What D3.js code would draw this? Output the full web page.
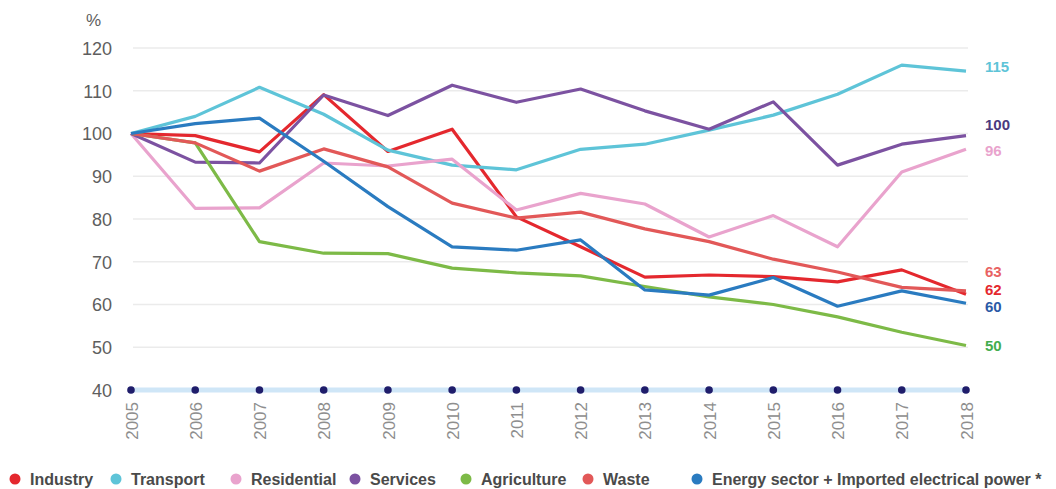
<!DOCTYPE html>
<html>
<head>
<meta charset="utf-8">
<script src="https://cdn.jsdelivr.net/npm/d3@7"></script>
<style>
  html, body { margin: 0; padding: 0; background: #fff; }
  svg { display: block; font-family: "Liberation Sans", Arial, Helvetica, sans-serif; }
</style>
</head>
<body>
<svg id="chart" width="1056" height="489"></svg>
<script>
// Emissions by sector, index 2005 = 100
const years = [2005, 2006, 2007, 2008, 2009, 2010, 2011, 2012, 2013, 2014, 2015, 2016, 2017, 2018];
const yTicks = [40, 50, 60, 70, 80, 90, 100, 110, 120];

const industry    = [100, 99.5, 95.7, 109.1, 95.8, 101.0, 80.5, 73.5, 66.4, 66.9, 66.5, 65.3, 68.1, 62.4];
const transport   = [100, 104.0, 110.8, 104.5, 96.1, 92.6, 91.5, 96.3, 97.5, 100.8, 104.3, 109.2, 116.0, 114.6];
const residential = [100, 82.5, 82.6, 93.1, 92.4, 94.0, 82.1, 86.0, 83.5, 75.8, 80.8, 73.5, 91.0, 96.3];
const services    = [100, 93.3, 93.1, 109.0, 104.2, 111.3, 107.3, 110.4, 105.3, 101.0, 107.4, 92.6, 97.5, 99.5];
const agriculture = [100, 97.8, 74.7, 72.0, 71.9, 68.5, 67.4, 66.7, 64.2, 61.8, 60.0, 57.1, 53.5, 50.4];
const waste       = [100, 97.8, 91.2, 96.4, 92.2, 83.7, 80.2, 81.6, 77.7, 74.7, 70.6, 67.6, 64.0, 63.2];
const energy      = [100, 102.3, 103.6, 93.5, 82.9, 73.5, 72.7, 75.1, 63.4, 62.2, 66.3, 59.6, 63.2, 60.3];

const seriesNames  = ["Industry", "Transport", "Residential", "Services", "Agriculture", "Waste", "Energy sector + Imported electrical power *"];
const seriesValues = [industry, transport, residential, services, agriculture, waste, energy];
const seriesColors = ["#e4282e", "#5ec4d8", "#e9a3cd", "#7c52a1", "#7dba47", "#e25858", "#2a7bc0"];
const endLabels    = ["62", "115", "96", "100", "50", "63", "60"];
const endColors    = ["#e4282e", "#5ec4d8", "#e9a3cd", "#4b3a7e", "#43ad4e", "#e86262", "#2b5aa6"];
const endLabelY    = [290, 67, 151, 125, 346, 272, 307];

const svg = d3.select("#chart");

const x = d3.scalePoint().domain(years).range([131, 966]);
const y = d3.scaleLinear().domain([40, 120]).range([390, 48]);

// horizontal grid
svg.append("g")
  .selectAll("line")
  .data(yTicks.filter(t => t > 40))
  .join("line")
  .attr("x1", 133).attr("x2", 968)
  .attr("y1", d => y(d)).attr("y2", d => y(d))
  .attr("stroke", "#ebebeb").attr("stroke-width", 1.5);

// y tick labels
const yAxis = d3.axisLeft(y).tickValues(yTicks).tickSize(0).tickPadding(0);
const gy = svg.append("g").attr("transform", "translate(112,0)").call(yAxis);
gy.select(".domain").remove();
gy.selectAll("text")
  .attr("font-size", 18).attr("fill", "#5e5e5e")
  .attr("font-family", "'Liberation Sans', Arial, sans-serif")
  .attr("dy", "0.36em");

svg.append("text").attr("x", 86).attr("y", 26)
  .attr("font-size", 17).attr("fill", "#5e5e5e").text("%");

// baseline axis with year markers
svg.append("line")
  .attr("x1", 131).attr("x2", 966)
  .attr("y1", y(40)).attr("y2", y(40))
  .attr("stroke", "#cfe6f7").attr("stroke-width", 5);

svg.append("g").selectAll("circle")
  .data(years).join("circle")
  .attr("cx", d => x(d)).attr("cy", y(40)).attr("r", 3.8)
  .attr("fill", "#1f1d6b");

const xAxis = d3.axisBottom(x).tickSize(0).tickPadding(0);
const gx = svg.append("g").attr("transform", `translate(0,${y(40)})`).call(xAxis);
gx.select(".domain").remove();
gx.selectAll("text")
  .attr("font-size", 17).attr("fill", "#8e8e8e")
  .attr("transform", "rotate(-90)")
  .attr("text-anchor", "end")
  .attr("x", -12).attr("y", 0).attr("dy", "0.36em");

// series lines
const line = d3.line()
  .x((d, i) => x(years[i]))
  .y(d => y(d));

svg.append("g").selectAll("path")
  .data(seriesValues)
  .join("path")
  .attr("d", d => line(d))
  .attr("fill", "none")
  .attr("stroke", (d, i) => seriesColors[i])
  .attr("stroke-width", 3.2)
  .attr("stroke-linejoin", "round");

// end labels
svg.append("g").selectAll("text")
  .data(endLabels)
  .join("text")
  .attr("x", 985)
  .attr("y", (d, i) => endLabelY[i])
  .attr("dy", "0.36em")
  .attr("font-size", 15).attr("font-weight", "bold")
  .attr("fill", (d, i) => endColors[i])
  .text(d => d);

// legend
const legendX = [15, 116, 236, 355, 466, 588, 697];
const lg = svg.append("g").selectAll("g")
  .data(seriesNames)
  .join("g")
  .attr("transform", (d, i) => `translate(${legendX[i]},479)`);
lg.append("circle").attr("r", 5.5).attr("fill", (d, i) => seriesColors[i]);
lg.append("text")
  .attr("x", 15).attr("dy", "0.36em")
  .attr("font-size", 16).attr("font-weight", "bold").attr("fill", "#4a4a4a")
  .text(d => d);
</script>
</body>
</html>
